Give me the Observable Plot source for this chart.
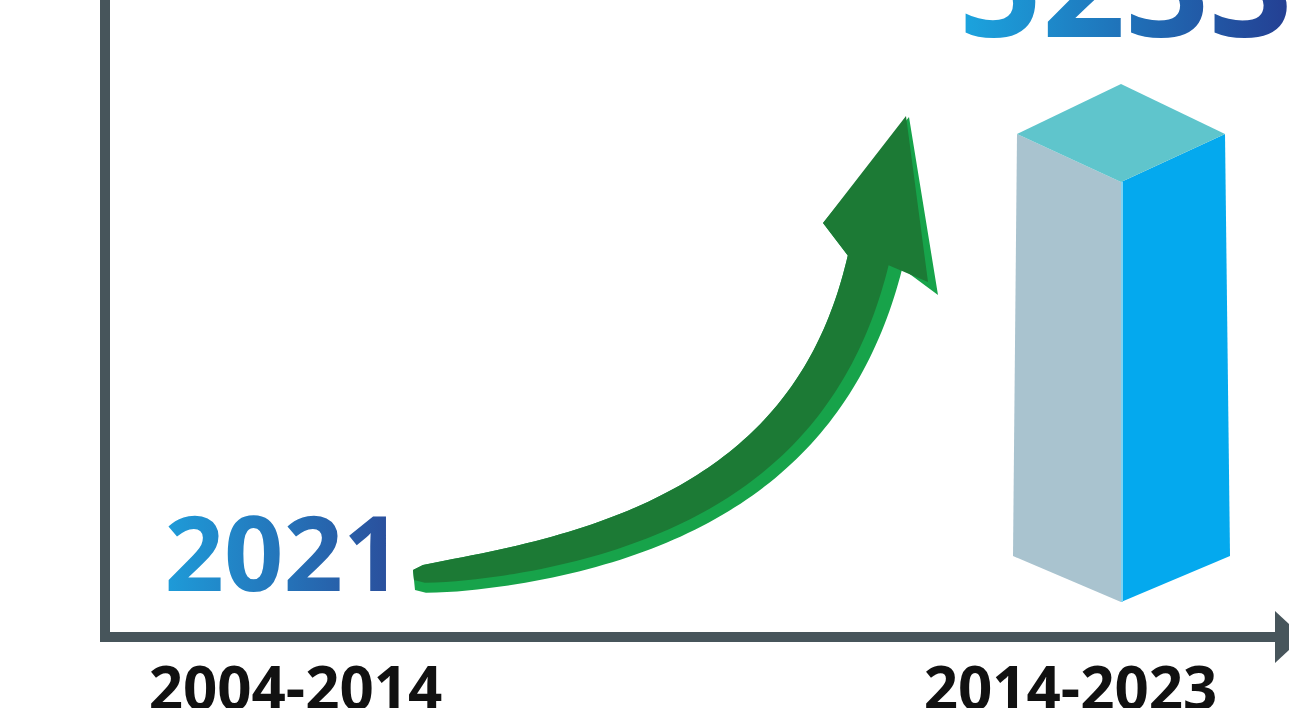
<!DOCTYPE html>
<html>
<head>
<meta charset="utf-8">
<script src="https://cdn.jsdelivr.net/npm/d3@7"></script>
<script src="https://cdn.jsdelivr.net/npm/@observablehq/plot@0.6"></script>
<style>
  html, body { margin: 0; padding: 0; background: #ffffff; overflow: hidden; }
  #chart svg { display: block; }
</style>
</head>
<body>
<div id="chart"></div>
<script>
// ---- data ----
const periods = ["2004-2014", "2014-2023"];
const values = [2021, 5233];
const valueLabels = ["2021", "5233"];

const rows = periods.map((period, i) => ({period, value: values[i], label: valueLabels[i]}));

// ---- style constants ----
const W = 1289, H = 708;
const axisColor = "#47555b";
const font = "'Open Sans', 'Noto Sans', sans-serif";

// gradient definitions for the value labels
function gradients() {
  const g = d3.create("svg:g");
  const defs = g.append("defs");
  const add = (id, c0, c1) => {
    const lg = defs.append("linearGradient").attr("id", id)
      .attr("x1", "0").attr("x2", "1").attr("y1", "0").attr("y2", "0");
    lg.append("stop").attr("offset", "0").attr("stop-color", c0);
    lg.append("stop").attr("offset", "1").attr("stop-color", c1);
  };
  add("gradLow", "#1e9cd9", "#2b4b99");
  add("gradHigh", "#1ba5df", "#243e92");
  return g.node();
}

// the two axis lines with the arrowhead at the end of the x axis
function axisFrame(index, scales, channels, dims) {
  const {width, height, marginLeft, marginRight, marginBottom} = dims;
  const y0 = height - marginBottom, x0 = marginLeft, x1 = width - marginRight;
  const g = d3.create("svg:g");
  g.append("path")
    .attr("d", `M${x0},-10V${y0}H${x1 + 2}`)
    .attr("fill", "none").attr("stroke", axisColor)
    .attr("stroke-width", 10).attr("stroke-linejoin", "miter");
  g.append("path")
    .attr("d", `M${x1},${y0 - 26}L${x1 + 28},${y0}L${x1},${y0 + 26}Z`)
    .attr("fill", axisColor);
  return g.node();
}

// isometric bar for the later period
function bar3d(index, scales, channels, dims) {
  const {x, y} = scales;
  const r = rows[1];
  const cx = x(r.period) + 51;
  const top = y(r.value);
  const floor = dims.height - dims.marginBottom - 35;
  const hwT = 104, hwB = 108, slantTop = 48, slantBack = 50, slantBot = 46;
  const g = d3.create("svg:g");
  const poly = (pts, fill) => g.append("polygon")
    .attr("points", pts.map(p => p.join(",")).join(" ")).attr("fill", fill);
  poly([[cx - hwT, top], [cx, top + slantTop], [cx, floor], [cx - hwB, floor - slantBot]], "#a9c3cf");
  poly([[cx, top + slantTop], [cx + hwT, top], [cx + hwB + 1, floor - slantBot], [cx, floor]], "#04a9ee");
  poly([[cx - hwT, top], [cx, top - slantBack], [cx + hwT, top], [cx, top + slantTop]], "#5fc5cc");
  g.append("line").attr("x1", cx + 1).attr("x2", cx + 1).attr("y1", top + slantTop).attr("y2", floor)
    .attr("stroke", "#7fd3f2").attr("stroke-width", 2);
  return g.node();
}

// curved growth arrow from the first value to the second
function growthArrow(index, scales) {
  const {x, y} = scales;
  const a = rows[0], b = rows[1];
  const S = [x(a.period) + 119, y(a.value) - 10];
  const T = [x(b.period) - 164, y(b.value) - 18];
  const E = [T[0] - 31, T[1] + 146];
  const C1 = [S[0] + 280, S[1] - 28];
  const C2 = [E[0] - 45, E[1] + 185];
  const bez = t => {
    const u = 1 - t;
    return [
      u*u*u*S[0] + 3*u*u*t*C1[0] + 3*u*t*t*C2[0] + t*t*t*E[0],
      u*u*u*S[1] + 3*u*u*t*C1[1] + 3*u*t*t*C2[1] + t*t*t*E[1]
    ];
  };
  const der = t => {
    const u = 1 - t;
    return [
      3*u*u*(C1[0]-S[0]) + 6*u*t*(C2[0]-C1[0]) + 3*t*t*(E[0]-C2[0]),
      3*u*u*(C1[1]-S[1]) + 6*u*t*(C2[1]-C1[1]) + 3*t*t*(E[1]-C2[1])
    ];
  };
  const N = 80;
  const upper = [], lower = [], darkLower = [];
  for (let i = 0; i <= N; i++) {
    const t = i / N;
    const p = bez(t), d = der(t);
    const len = Math.hypot(d[0], d[1]);
    const n = [d[1] / len, -d[0] / len];
    const w = 20 + 36 * Math.pow(t, 0.35);
    const lw = 10 + 4 * t;
    upper.push([p[0] + n[0] * w / 2, p[1] + n[1] * w / 2]);
    lower.push([p[0] - n[0] * w / 2, p[1] - n[1] * w / 2]);
    darkLower.push([p[0] - n[0] * (w / 2 - lw), p[1] - n[1] * (w / 2 - lw)]);
  }
  const LW = [T[0] - 83, T[1] + 107];
  const RW = [T[0] + 32, T[1] + 179];
  const RWd = [T[0] + 22, T[1] + 166];
  const light = [...upper, LW, [T[0] + 3, T[1] + 1], RW, ...lower.slice().reverse()];
  const dark = [...upper, LW, T, RWd, ...darkLower.slice().reverse()];
  const g = d3.create("svg:g");
  const line = d3.line();
  g.append("path").attr("d", line(light) + "Z").attr("fill", "#17a34a");
  g.append("path").attr("d", line(dark) + "Z").attr("fill", "#1c7a35");
  return g.node();
}

const chart = Plot.plot({
  width: W,
  height: H,
  marginTop: 0,
  marginLeft: 105,
  marginRight: 14,
  marginBottom: 71,
  style: {background: "#ffffff", fontFamily: font, overflow: "hidden"},
  x: {type: "point", domain: periods, range: [295, 1070], padding: 0, align: 0.5},
  y: {domain: [values[0], values[1]], range: [590, 134], axis: null},
  marks: [
    gradients,
    axisFrame,
    bar3d,
    growthArrow,
    Plot.text([rows[0]], {
      x: "period", y: "value", text: "label",
      lineAnchor: "bottom", textAnchor: "middle", dx: -12,
      fontSize: 104, fontWeight: 700, fontFamily: font, fill: "url(#gradLow)"
    }),
    Plot.text([rows[1]], {
      x: "period", y: "value", text: "label",
      lineAnchor: "bottom", textAnchor: "middle", dx: 55, dy: -98,
      fontSize: 146, fontWeight: 700, fontFamily: font, fill: "url(#gradHigh)"
    }),
    Plot.axisX({
      tickSize: 0, tickPadding: 30, label: null,
      fontSize: 60, fontWeight: 700, fontFamily: font, fill: "#111111"
    })
  ]
});

document.getElementById("chart").appendChild(chart);
</script>
</body>
</html>
